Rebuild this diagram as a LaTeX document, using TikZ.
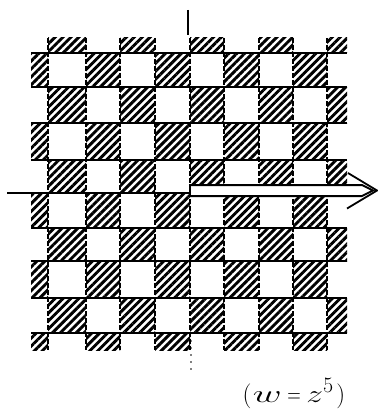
\documentclass[tikz,border=0pt]{standalone}
\usetikzlibrary{patterns.meta}
\begin{document}
\begin{tikzpicture}[x=1pt,y=-1pt,
  hatch/.style={pattern={Lines[angle=45,distance=5.6pt,line width=2.9pt]}},
  gridline/.style={line width=1.9pt},
  dashline/.style={line width=1.2pt,dash pattern=on 5pt off 2pt},
  axisline/.style={line width=2pt},
  arrowline/.style={line width=2pt,line join=miter}]
\useasboundingbox (0,0) rectangle (377,409);
\def\xs{{31,48,86,120,155,190,224,259,293,327,347}}
\def\ys{{38,53,87,123,160,193,228,261,298,333,350}}
% hatched checkerboard cells
\foreach \i in {0,...,9}{
  \foreach \j in {0,...,9}{
    \pgfmathtruncatemacro\odd{mod(\i+\j,2)}
    \ifnum\odd=1
      \pgfmathsetmacro\xa{\xs[\j]}
      \pgfmathsetmacro\xb{\xs[\j+1]}
      \pgfmathsetmacro\ya{\ys[\i]}
      \pgfmathsetmacro\yb{\ys[\i+1]}
      \fill[hatch] (\xa,\ya) rectangle (\xb,\yb);
    \fi
  }
}
% dashed vertical boundaries
\foreach \j in {1,...,9}{
  \pgfmathsetmacro\xa{\xs[\j]}
  \draw[dashline] (\xa,38) -- (\xa,350);
}
% horizontal solid lines
\foreach \i in {1,...,9}{
  \pgfmathsetmacro\ya{\ys[\i]}
  \draw[gridline] (31,\ya) -- (347,\ya);
}
% axes
\coordinate (ytop) at (188,10);
\coordinate (ybot) at (188,35);
\draw[axisline] (ytop) -- (ybot);
\coordinate (xl) at (7,193);
\coordinate (xr) at (33,193);
\draw[axisline] (xl) -- (xr);
\coordinate (dtop) at (191,341);
\coordinate (dbot) at (191,370);
\draw[line width=1.8pt,line cap=round,dash pattern=on 0pt off 7pt] (dtop) -- (dbot);
% double arrow
\coordinate (o) at (190,190.5);
\coordinate (tip) at (377,190.5);
\fill[white] ([yshift=-6pt]o) rectangle ([xshift=-6pt,yshift=6pt]tip);
\draw[arrowline] ([yshift=-6.5pt]o) -- ([yshift=6.5pt]o);
\draw[arrowline] ([yshift=-5.5pt]o) -- ([xshift=-15pt,yshift=-5.5pt]tip) -- ([xshift=-4pt]tip)
  -- ([xshift=-15pt,yshift=5.5pt]tip) -- ([yshift=5.5pt]o);
\draw[line width=1.8pt] ([xshift=-30pt,yshift=-18pt]tip) -- (tip) -- ([xshift=-29pt,yshift=17.5pt]tip);
% label
\node[inner sep=0pt,anchor=base] (lbl) at (294,402) {\fontsize{28}{32}\selectfont
  $(\mskip1mu\scalebox{1.6}[1]{$w$}\mskip4mu\scalebox{0.75}[1]{$=$}\mskip4mu\scalebox{1.35}[1]{$z$}^{\mbox{\fontsize{22}{24}\selectfont 5}}\mskip2mu)$};
\end{tikzpicture}
\end{document}
